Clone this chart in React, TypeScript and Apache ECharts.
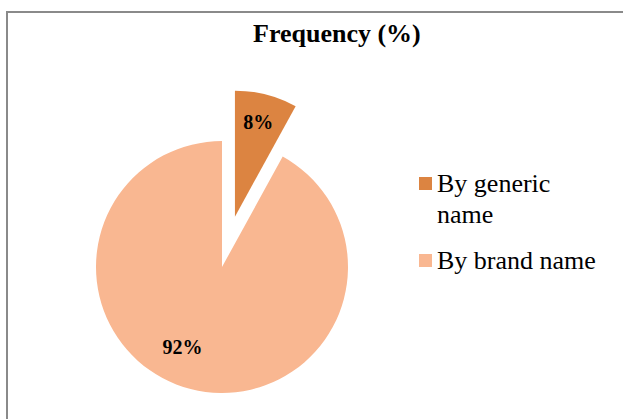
import React, { useEffect, useRef } from "react";
import * as echarts from "echarts";

const categories = ["By generic name", "By brand name"];
const values = [8, 92];
const colors = ["#DC8441", "#F9B791"];
const titleText = "Frequency (%)";

export default function App() {
  const ref = useRef<HTMLDivElement>(null);
  useEffect(() => {
    if (!ref.current) return;
    const chart = echarts.init(ref.current, undefined, { renderer: "svg" });
    const serif = "'Liberation Serif', 'Times New Roman', serif";
    const labelShift = [
      { dx: 7, dy: -31 },
      { dx: -23, dy: 16 },
    ];
    chart.setOption({
      animation: false,
      backgroundColor: "#ffffff",
      title: {
        text: titleText,
        left: 253,
        top: 18,
        padding: 0,
        textStyle: { fontFamily: serif, fontSize: 26, fontWeight: "bold", color: "#000", lineHeight: 30 },
      },
      graphic: [
        {
          type: "rect",
          shape: { x: 7, y: 12, width: 700, height: 500 },
          style: { fill: "none", stroke: "#8a8a8a", lineWidth: 2 },
          silent: true,
        },
      ],
      legend: {
        orient: "vertical",
        left: 419,
        top: 137,
        padding: 0,
        icon: "rect",
        itemWidth: 13,
        itemHeight: 13,
        itemGap: 15,
        selectedMode: false,
        formatter: (name: string) => (name === "By generic name" ? " \nBy generic\nname" : name),
        textStyle: { fontFamily: serif, fontSize: 26, color: "#000", lineHeight: 31 },
        data: categories,
      },
      series: [
        {
          type: "pie",
          center: [222, 267],
          radius: 126,
          startAngle: 90,
          clockwise: true,
          selectedMode: "single",
          selectedOffset: 52,
          emphasis: { disabled: true },
          label: {
            show: true,
            position: "inside",
            formatter: "{c}%",
            fontFamily: serif,
            fontSize: 20,
            fontWeight: "bold",
            color: "#000",
          },
          labelLine: { show: false },
          labelLayout: (p: any) => labelShift[p.dataIndex],
          data: categories.map((c, i) => ({
            name: c,
            value: values[i],
            selected: i === 0,
            itemStyle: { color: colors[i], borderWidth: 0 },
            select: { itemStyle: { color: colors[i], borderWidth: 0 } },
          })),
        },
      ],
    });
    return () => chart.dispose();
  }, []);
  return (
    <div
      ref={ref}
      style={{ position: "fixed", left: 0, top: 0, width: 623, height: 419 }}
    />
  );
}
